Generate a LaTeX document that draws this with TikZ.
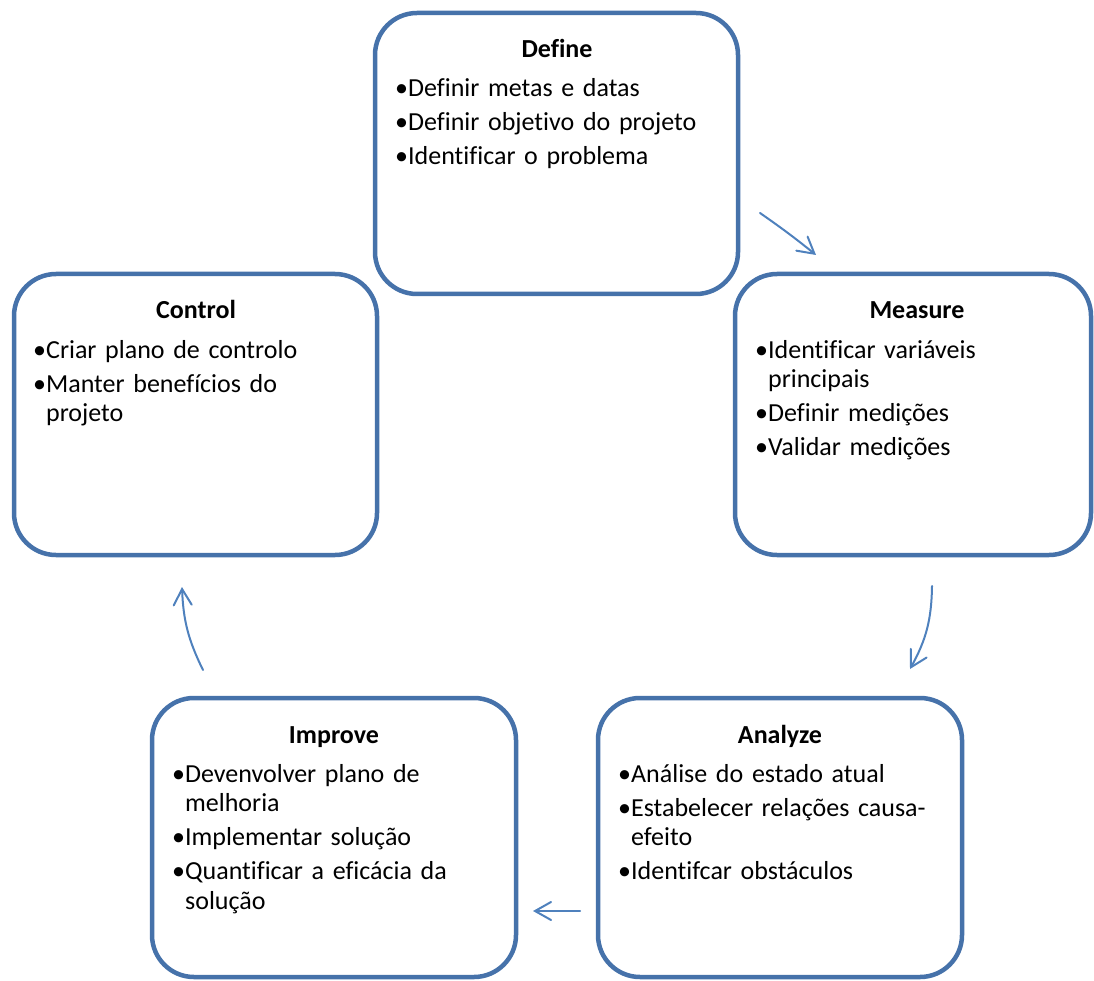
\documentclass[tikz,border=0pt]{standalone}
\usepackage{fontspec}
\setmainfont{Carlito}[Ligatures={NoCommon}]
\usetikzlibrary{arrows.meta}
\definecolor{boxblue}{RGB}{70,114,170}
\definecolor{arrowblue}{RGB}{79,129,189}

\begin{document}
\begin{tikzpicture}[x=1pt,y=-1pt,
  stage/.style={draw=boxblue, line width=4.5pt, rounded corners=42pt, inner sep=0pt},
  stagetitle/.style={anchor=base, inner sep=0pt, font=\fontsize{26}{29.5}\selectfont\bfseries},
  stagebody/.style={anchor=base west, inner sep=0pt, text width=340pt, align=left,
                    font=\fontsize{26}{29.5}\selectfont},
  flow/.style={draw=arrowblue, line width=2pt, line cap=round,
               -{Straight Barb[length=16pt,width=18pt,line cap=round]}}
]
\useasboundingbox (0,0) rectangle (1094,981);

% the five stage boxes
\node[stage, minimum width=363pt, minimum height=281pt] (define)  at (556.5,153.5) {};
\node[stage, minimum width=363pt, minimum height=281pt] (control) at (195.5,414.5) {};
\node[stage, minimum width=356pt, minimum height=281pt] (measure) at (913,414.5) {};
\node[stage, minimum width=364pt, minimum height=279pt] (improve) at (334,837.5) {};
\node[stage, minimum width=364pt, minimum height=279pt] (analyze) at (780,837.5) {};

% titles
\node[stagetitle] (defineT)  at (557,58)  {Define};
\node[stagetitle] (controlT) at (196,319) {Control};
\node[stagetitle] (measureT) at (917,319) {Measure};
\node[stagetitle] (improveT) at (334,743) {Improve};
\node[stagetitle] (analyzeT) at (780,743) {Analyze};

% bullet lists
\node[stagebody] (defineB) at (395,97)
  {•Definir metas e datas\\[4.5pt]
   •Definir objetivo do projeto\\[4.5pt]
   •Identificar o problema};
\node[stagebody] (controlB) at (33,358)
  {•Criar plano de controlo\\[4.5pt]
   •Manter benefícios do\\
   \phantom{•}projeto};
\node[stagebody] (measureB) at (755,358)
  {•Identificar variáveis\\
   \phantom{•}principais\\[4.5pt]
   •Definir medições\\[4.5pt]
   •Validar medições};
\node[stagebody] (improveB) at (172,782)
  {•Devenvolver plano de\\
   \phantom{•}melhoria\\[4.5pt]
   •Implementar solução\\[4.5pt]
   •Quantificar a eficácia da\\
   \phantom{•}solução};
\node[stagebody] (analyzeB) at (618,782)
  {•Análise do estado atual\\[4.5pt]
   •Estabelecer relações causa-\\
   \phantom{•}efeito\\[4.5pt]
   •Identifcar obstáculos};

% cycle arrows between the stages
\coordinate (f1a) at (760,213);  \coordinate (f1b) at (816,255);
\coordinate (f2a) at (932,586);  \coordinate (f2b) at (910,669);
\coordinate (f3a) at (580,911);  \coordinate (f3b) at (533,911);
\coordinate (f4a) at (203,670);  \coordinate (f4b) at (182,587);

\draw[flow] (f1a) to[bend left=2]  (f1b);
\draw[flow] (f2a) to[bend left=14] (f2b);
\draw[flow] (f3a) to               (f3b);
\draw[flow] (f4a) to[bend left=12] (f4b);
\end{tikzpicture}
\end{document}
